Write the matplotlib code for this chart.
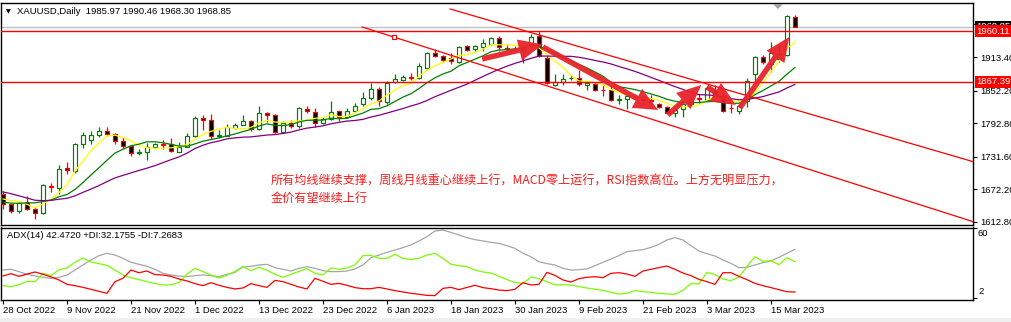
import matplotlib
matplotlib.use('Agg')
import matplotlib.pyplot as plt
import numpy as np
from matplotlib.patches import Rectangle, Polygon

W, H, DPI = 1012, 322, 100

# ---------------- data ----------------
tick_labels = ['28 Oct 2022', '9 Nov 2022', '21 Nov 2022', '1 Dec 2022', '13 Dec 2022',
               '23 Dec 2022', '6 Jan 2023', '18 Jan 2023', '30 Jan 2023', '9 Feb 2023',
               '21 Feb 2023', '3 Mar 2023', '15 Mar 2023']
tick_bars = [0, 8, 16, 24, 32, 40, 48, 56, 64, 72, 80, 88, 96]

opens = [1664, 1645, 1633, 1649, 1636, 1629, 1679, 1675, 1712, 1706,
         1755, 1763, 1771, 1779, 1774, 1761, 1752, 1739, 1740, 1749,
         1755, 1755, 1741, 1749, 1770, 1803, 1798, 1769, 1770, 1785,
         1789, 1797, 1782, 1812, 1808, 1776, 1793, 1787, 1819, 1814,
         1793, 1800, 1815, 1804, 1815, 1827, 1839, 1856, 1831, 1868,
         1872, 1878, 1876, 1894, 1920, 1915, 1911, 1905, 1933, 1929,
         1931, 1938, 1948, 1930, 1929, 1924, 1935, 1952, 1912, 1862,
         1868, 1875, 1876, 1863, 1865, 1854, 1854, 1836, 1837, 1842,
         1841, 1835, 1827, 1823, 1812, 1818, 1827, 1838, 1836, 1851,
         1842, 1821, 1815, 1833, 1882, 1914, 1900, 1910, 1918, 1985.97]
highs = [1669, 1646, 1650, 1660, 1640, 1682, 1684, 1716, 1722, 1757,
         1776, 1778, 1786, 1786, 1775, 1768, 1754, 1745, 1757, 1757,
         1763, 1765, 1759, 1775, 1806, 1808, 1810, 1781, 1791, 1794,
         1807, 1798, 1825, 1814, 1809, 1796, 1798, 1823, 1825, 1821,
         1805, 1834, 1816, 1821, 1830, 1850, 1867, 1859, 1870, 1883,
         1881, 1885, 1903, 1922, 1928, 1918, 1921, 1933, 1936, 1936,
         1946, 1950, 1952, 1936, 1933, 1932, 1955, 1961, 1918, 1882,
         1882, 1880, 1889, 1870, 1868, 1864, 1862, 1845, 1847, 1846,
         1843, 1845, 1830, 1825, 1820, 1830, 1842, 1846, 1861, 1862,
         1847, 1827, 1826, 1876, 1916, 1917, 1940, 1937, 1990, 1990.46]
lows = [1637, 1630, 1630, 1634, 1618, 1628, 1667, 1664, 1700, 1703,
        1748, 1755, 1768, 1770, 1755, 1748, 1733, 1735, 1726, 1748,
        1746, 1740, 1740, 1749, 1767, 1780, 1764, 1766, 1769, 1782,
        1789, 1778, 1780, 1795, 1775, 1775, 1784, 1785, 1811, 1786,
        1792, 1798, 1796, 1803, 1813, 1825, 1836, 1825, 1828, 1866,
        1869, 1872, 1874, 1892, 1913, 1905, 1900, 1903, 1925, 1924,
        1925, 1935, 1925, 1923, 1925, 1902, 1930, 1913, 1865, 1860,
        1862, 1871, 1860, 1854, 1852, 1843, 1833, 1827, 1819, 1838,
        1827, 1824, 1821, 1811, 1804, 1805, 1825, 1830, 1833, 1843,
        1813, 1812, 1810, 1822, 1867, 1900, 1886, 1905, 1916, 1968.30]
closes = [1645, 1633, 1648, 1636, 1630, 1681, 1676, 1710, 1707, 1755,
          1771, 1771, 1779, 1774, 1760, 1751, 1739, 1740, 1750, 1755,
          1753, 1742, 1750, 1769, 1803, 1799, 1769, 1771, 1786, 1790,
          1797, 1782, 1812, 1808, 1776, 1793, 1788, 1820, 1815, 1793,
          1800, 1814, 1804, 1815, 1825, 1839, 1856, 1833, 1867, 1873,
          1878, 1876, 1898, 1921, 1915, 1909, 1906, 1932, 1927, 1934,
          1939, 1948, 1931, 1929, 1928, 1929, 1950, 1915, 1867, 1868,
          1874, 1876, 1864, 1866, 1854, 1853, 1835, 1837, 1842, 1841,
          1835, 1834, 1823, 1812, 1817, 1828, 1836, 1837, 1857, 1847,
          1815, 1820, 1824, 1870, 1914, 1904, 1920, 1919, 1989, 1968.85]
# closes before the first visible bar (needed for the moving averages at the left edge)
prior_closes = [1699, 1725, 1716, 1712, 1695, 1668, 1666, 1673, 1666, 1644,
                1650, 1652, 1629, 1627, 1657, 1649, 1652, 1665, 1663]

adx = [25.4, 26.0, 24.1, 21.9, 20.5, 19.4, 18.6, 19.4, 21.3, 25.4,
       29.6, 33.7, 37.3, 39.2, 37.8, 35.1, 31.8, 30.1, 28.5, 26.0,
       22.7, 21.3, 20.5, 19.9, 20.8, 21.3, 20.8, 19.9, 21.9, 23.5,
       27.9, 28.5, 29.6, 30.1, 27.4, 26.0, 24.6, 26.8, 28.2, 26.8,
       24.9, 24.1, 24.1, 24.6, 26.3, 29.6, 35.6, 37.8, 40.0, 41.9,
       43.9, 46.1, 49.4, 52.9, 57.6, 58.4, 56.5, 54.3, 52.1, 50.5,
       49.4, 48.3, 47.4, 45.5, 43.3, 39.2, 36.4, 32.3, 30.7, 29.6,
       26.8, 25.4, 25.7, 26.3, 29.0, 31.8, 34.5, 37.3, 40.6, 41.4,
       42.2, 44.1, 46.6, 50.2, 52.1, 50.2, 45.5, 41.1, 38.9, 37.0,
       33.7, 30.9, 27.4, 27.6, 29.6, 31.5, 32.9, 35.9, 39.2, 42.47]
plus_di = [12.5, 11.7, 13.3, 16.1, 15.8, 22.7, 20.8, 25.7, 27.1, 31.8,
           35.3, 32.0, 30.7, 29.3, 25.4, 21.3, 19.1, 17.5, 15.8, 14.2,
           13.1, 13.1, 15.2, 21.9, 26.8, 24.1, 21.3, 18.8, 21.0, 24.3,
           28.2, 24.9, 27.6, 25.2, 21.9, 19.4, 21.9, 24.3, 26.5, 22.7,
           21.3, 27.1, 26.0, 27.1, 29.6, 37.3, 37.5, 35.1, 35.1, 38.4,
           35.1, 34.0, 35.1, 37.8, 39.2, 35.1, 30.1, 29.0, 28.2, 25.4,
           23.8, 23.0, 20.2, 17.5, 15.2, 14.2, 19.7, 18.3, 15.8, 13.1,
           13.3, 13.1, 11.7, 10.6, 9.5, 8.7, 7.0, 5.6, 6.2, 8.4,
           7.6, 7.0, 6.2, 5.6, 5.4, 8.7, 14.2, 13.9, 23.5, 21.6,
           18.0, 16.6, 19.7, 28.2, 36.4, 32.6, 33.1, 29.8, 35.6, 32.18]
minus_di = [20.5, 22.4, 20.2, 22.1, 23.8, 21.9, 19.7, 17.2, 13.6, 12.5,
            11.1, 9.5, 7.8, 6.2, 15.8, 18.6, 25.4, 23.2, 24.6, 21.6,
            21.3, 20.2, 18.0, 16.4, 14.2, 12.5, 15.0, 12.8, 11.1, 9.8,
            10.6, 14.2, 12.5, 11.1, 16.9, 15.8, 13.6, 11.4, 9.8, 18.6,
            16.1, 13.6, 14.4, 12.8, 10.9, 10.0, 10.0, 11.1, 9.8, 8.4,
            7.3, 6.2, 5.4, 4.5, 4.3, 10.3, 11.1, 9.2, 11.1, 12.8,
            10.9, 10.0, 8.9, 8.4, 9.5, 15.0, 13.1, 13.6, 23.5, 21.0,
            17.2, 15.5, 18.3, 19.4, 19.9, 19.1, 22.7, 23.2, 22.1, 20.2,
            24.6, 26.0, 27.4, 28.7, 26.0, 22.9, 20.8, 17.7, 15.8, 13.6,
            23.2, 23.2, 20.2, 17.5, 14.4, 12.5, 10.9, 9.2, 7.5, 7.27]

price_ticks = [1612.80, 1672.20, 1731.60, 1792.80, 1852.20, 1913.40, 1974.60]
level_lines = [1960.11, 1867.39]
bid_price = 1968.85
channel_upper = [(55.9, 2001.1), (121.4, 1722.2)]
channel_lower = [(44.9, 1968.3), (121.4, 1612.8)]
channel_anchor = (48.9, 1950.1)
arrows = [((59.9, 1910.0), (67.5, 1936.4)),
          ((67.5, 1931.8), (81.9, 1817.0)),
          ((83.1, 1807.9), (87.3, 1862.6)),
          ((88.0, 1858.9), (91.6, 1826.1)),
          ((92.1, 1820.6), (98.3, 1950.0))]

title = 'XAUUSD,Daily  1985.97 1990.46 1968.30 1968.85'
adx_title = 'ADX(14) 42.4720 +DI:32.1755 -DI:7.2683'
note1 = '所有均线继续支撑，周线月线重心继续上行，MACD零上运行，RSI指数高位。上方无明显压力，'
note2 = '金价有望继续上行'

# ---------------- figure ----------------
MT = 'Liberation Sans'
FS = 6.8
fig = plt.figure(figsize=(W / DPI, H / DPI), dpi=DPI)
fig.patch.set_facecolor('white')

def fx(x):
    return x / W

def fy(y):
    return 1 - y / H

L, R = 1.3, 973.3
ax = fig.add_axes([fx(L), fy(225), fx(R - L), (225 - 3) / H])
ax2 = fig.add_axes([fx(L), fy(300), fx(R - L), (300 - 227.5) / H])

n = len(closes)
xs = np.arange(n)
xlim = (-0.21, 121.3)

# candles
for i in range(n):
    o, h, l, c = opens[i], highs[i], lows[i], closes[i]
    bull = c >= o
    col = '#008000' if bull else '#ff0000'
    face = 'white' if bull else 'black'
    ax.plot([i, i], [l, h], color=col, lw=0.9, zorder=2, solid_capstyle='butt')
    bh = max(abs(c - o), 0.3)
    ax.add_patch(Rectangle((i - 0.3, min(o, c)), 0.6, bh, facecolor=face,
                           edgecolor=col, lw=0.85, zorder=3))

# moving averages
full = np.array(prior_closes + closes, dtype=float)
def sma(p):
    s = np.convolve(full, np.ones(p) / p, mode='valid')
    return s[-n:]
ax.plot(xs, sma(5), color='#ffff00', lw=0.9, zorder=4)
ax.plot(xs, sma(10), color='#008000', lw=0.9, zorder=4)
ax.plot(xs, sma(20), color='#800080', lw=0.9, zorder=4)

# horizontal levels
ax.axhline(bid_price, color='#c0c0c0', lw=1.0, zorder=1)
for lv in level_lines:
    ax.axhline(lv, color='#ff0000', lw=1.0, zorder=5)

# channel lines
for seg in (channel_upper, channel_lower):
    ax.plot([seg[0][0], seg[1][0]], [seg[0][1], seg[1][1]], color='#ff0000', lw=0.9, zorder=5)
ax.plot([channel_anchor[0]], [channel_anchor[1]], marker='s', ms=3.2, mfc='white',
        mec='#ff0000', mew=0.8, zorder=6)

# arrows
for (x0, y0), (x1, y1) in arrows:
    ax.annotate('', xy=(x1, y1), xytext=(x0, y0),
                arrowprops=dict(arrowstyle='simple,head_length=1.45,head_width=1.3,tail_width=0.33',
                                mutation_scale=12, color='#e8232b', lw=0, alpha=0.95,
                                shrinkA=0, shrinkB=0), zorder=8)

ax.set_xlim(*xlim)
ax.set_ylim(1607.3, 2012.0)
ax.set_xticks([])
ax.yaxis.tick_right()
ax.set_yticks(price_ticks)
ax.set_yticklabels(['%.2f' % v for v in price_ticks], fontsize=FS, family=MT)
ax.tick_params(axis='y', direction='out', length=3, width=0.8, pad=2, colors='black')
for s in ax.spines.values():
    s.set_color('black')
    s.set_linewidth(1.0)

# ADX panel
ax2.plot(xs, adx, color='#a6a6a6', lw=0.9)
ax2.plot(xs, plus_di, color='#7cfc00', lw=0.9)
ax2.plot(xs, minus_di, color='#ff0000', lw=0.9)
ax2.set_xlim(*xlim)
ax2.set_ylim(0.68, 60.5)
ax2.yaxis.tick_right()
ax2.set_yticks([60, 2])
ax2.set_yticklabels([])
ax2.tick_params(axis='y', direction='out', length=3, width=0.8)
ax2.set_xticks(tick_bars)
ax2.set_xticklabels(tick_labels, fontsize=FS, family=MT, ha='left')
ax2.tick_params(axis='x', direction='out', length=3, width=0.8, pad=1.5)
for s in ax2.spines.values():
    s.set_color('black')
    s.set_linewidth(1.0)

fig.text(fx(978), fy(234), '60', fontsize=FS, family=MT, va='center', ha='left')
fig.text(fx(978), fy(292), '2', fontsize=FS, family=MT, va='center', ha='left')

# titles
fig.text(fx(6), fy(12), '▼', fontsize=4.5, family='DejaVu Sans', va='center', ha='left')
fig.text(fx(17), fy(12), title, fontsize=FS, family=MT, va='center', ha='left')
fig.text(fx(7), fy(236), adx_title, fontsize=FS, family=MT, va='center', ha='left')

# annotation text
cjk = ['Noto Sans CJK SC', 'DejaVu Sans']
fig.text(fx(271), fy(181.5), note1, fontsize=8.75, family=cjk, color='#ff1a1a', va='center', ha='left')
fig.text(fx(271), fy(198), note2, fontsize=8.75, family=cjk, color='#ff1a1a', va='center', ha='left')

# right-axis price boxes
fig.text(fx(976), fy(26.5), '%.2f' % bid_price, fontsize=FS, family=MT, color='white',
         va='center', ha='left', bbox=dict(boxstyle='square,pad=0.15', fc='black', ec='none'))
fig.text(fx(976), fy(31.3), '%.2f' % level_lines[0], fontsize=FS, family=MT, color='white',
         va='center', ha='left', bbox=dict(boxstyle='square,pad=0.15', fc='#ff0000', ec='none'))
fig.text(fx(976), fy(82), '%.2f' % level_lines[1], fontsize=FS, family=MT, color='white',
         va='center', ha='left', bbox=dict(boxstyle='square,pad=0.15', fc='#ff0000', ec='none'))

# chart shift marker and bottom strip
fig.patches.append(Polygon([[fx(773), fy(4)], [fx(783), fy(4)], [fx(778), fy(9)]],
                           closed=True, transform=fig.transFigure, fc='#a0a0a0', ec='none'))
fig.patches.append(Rectangle((0, 0), 1, 4.5 / H, transform=fig.transFigure,
                             fc='#f0f0f0', ec='none'))

fig.savefig('out.png', dpi=DPI)
